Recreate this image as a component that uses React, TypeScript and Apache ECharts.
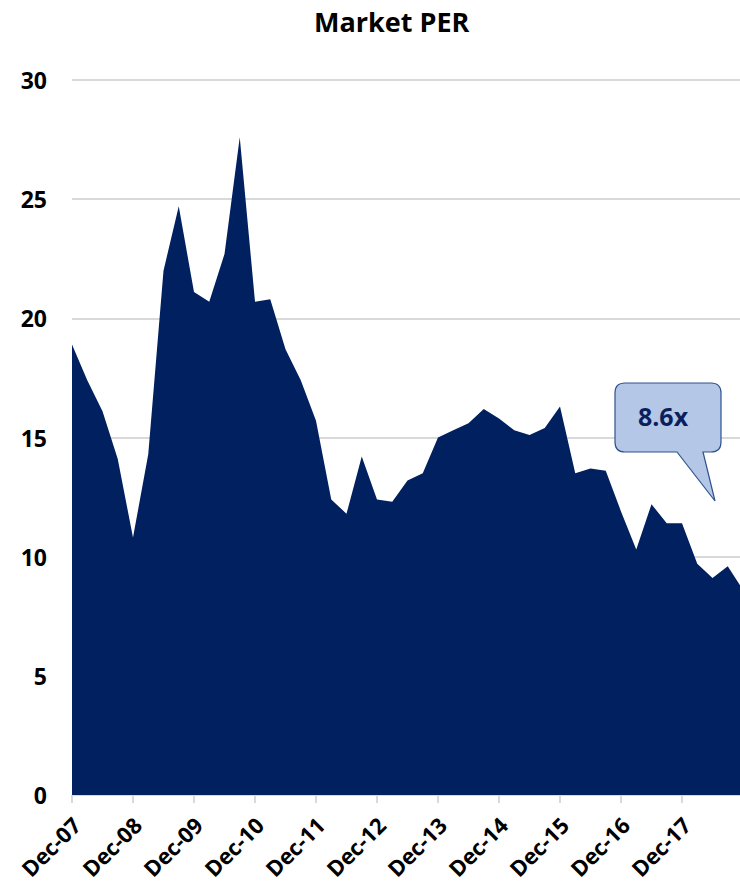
import React, { useEffect, useRef } from "react";
import * as echarts from "echarts";

const quarters = [
  "Dec-07", "Mar-08", "Jun-08", "Sep-08",
  "Dec-08", "Mar-09", "Jun-09", "Sep-09",
  "Dec-09", "Mar-10", "Jun-10", "Sep-10",
  "Dec-10", "Mar-11", "Jun-11", "Sep-11",
  "Dec-11", "Mar-12", "Jun-12", "Sep-12",
  "Dec-12", "Mar-13", "Jun-13", "Sep-13",
  "Dec-13", "Mar-14", "Jun-14", "Sep-14",
  "Dec-14", "Mar-15", "Jun-15", "Sep-15",
  "Dec-15", "Mar-16", "Jun-16", "Sep-16",
  "Dec-16", "Mar-17", "Jun-17", "Sep-17",
  "Dec-17", "Mar-18", "Jun-18", "Sep-18",
  "Dec-18",
];

const per = [
  18.9, 17.4, 16.1, 14.1,
  10.8, 14.3, 22.0, 24.7,
  21.1, 20.7, 22.7, 27.6,
  20.7, 20.8, 18.7, 17.4,
  15.7, 12.4, 11.8, 14.2,
  12.4, 12.3, 13.2, 13.5,
  15.0, 15.3, 15.6, 16.2,
  15.8, 15.3, 15.1, 15.4,
  16.3, 13.5, 13.7, 13.6,
  11.9, 10.3, 12.2, 11.4,
  11.4, 9.7, 9.1, 9.6,
  8.6,
];

const yTicks = { min: 0, max: 30, interval: 5 };
const titleText = "Market PER";
const calloutText = "8.6x";

const FONT = "'Open Sans', 'Noto Sans', sans-serif";

echarts.graphic.registerShape(
  "callout",
  echarts.graphic.extendPath(
    "M10,0 L96,0 Q106,0 106,10 L106,59 Q106,69 96,69 L88,69 L100,118 L62,69 L10,69 Q0,69 0,59 L0,10 Q0,0 10,0 Z",
    {}
  )
);

const showLabel = (i: number) => i % 4 === 0 && i < quarters.length - 1;

export default function App() {
  const ref = useRef<HTMLDivElement>(null);
  useEffect(() => {
    document.body.style.margin = "0";
    if (!ref.current) return;
    const chart = echarts.init(ref.current, undefined, { renderer: "svg" });
    chart.setOption({
      animation: false,
      backgroundColor: "#ffffff",
      title: {
        text: titleText,
        left: 309,
        top: 3,
        textStyle: { fontFamily: FONT, fontWeight: "bold", fontSize: 27, color: "#000" },
      },
      grid: {
        left: 72,
        top: 80,
        width: 671,
        height: 715,
        containLabel: false,
        outerBoundsMode: "none",
      },
      xAxis: {
        type: "category",
        data: quarters,
        boundaryGap: false,
        axisLine: { show: true, lineStyle: { color: "#d9d9d9", width: 1 } },
        axisTick: {
          show: true,
          interval: (i: number) => showLabel(i),
          length: 8,
          lineStyle: { color: "#d9d9d9", width: 2 },
        },
        axisLabel: {
          interval: (i: number) => showLabel(i),
          rotate: 45,
          margin: 30,
          padding: [0, -6, 0, 0],
          fontFamily: FONT,
          fontWeight: "bold",
          fontSize: 22,
          color: "#000",
        },
        splitLine: { show: false },
      },
      yAxis: {
        type: "value",
        min: yTicks.min,
        max: yTicks.max,
        interval: yTicks.interval,
        axisLine: { show: false },
        axisTick: { show: false },
        axisLabel: {
          margin: 25,
          fontFamily: FONT,
          fontWeight: "bold",
          fontSize: 23,
          color: "#000",
        },
        splitLine: { show: true, lineStyle: { color: "#d9d9d9", width: 2 } },
      },
      series: [
        {
          type: "line",
          data: per,
          symbol: "none",
          lineStyle: { width: 0, color: "#002060" },
          areaStyle: { color: "#002060", opacity: 1 },
          z: 3,
        },
      ],
      graphic: [
        {
          type: "callout",
          x: 615,
          y: 383,
          z: 100,
          style: { fill: "#b4c7e7", stroke: "#2f528f", lineWidth: 1.2 },
        },
        {
          type: "text",
          x: 663,
          y: 416,
          z: 101,
          style: {
            text: calloutText,
            fontFamily: FONT,
            fontWeight: "bold",
            fontSize: 25,
            fill: "#0b1f5c",
            textAlign: "center",
            textVerticalAlign: "middle",
          },
        },
      ],
    });
    return () => chart.dispose();
  }, []);
  return <div ref={ref} style={{ width: 740, height: 888 }} />;
}
